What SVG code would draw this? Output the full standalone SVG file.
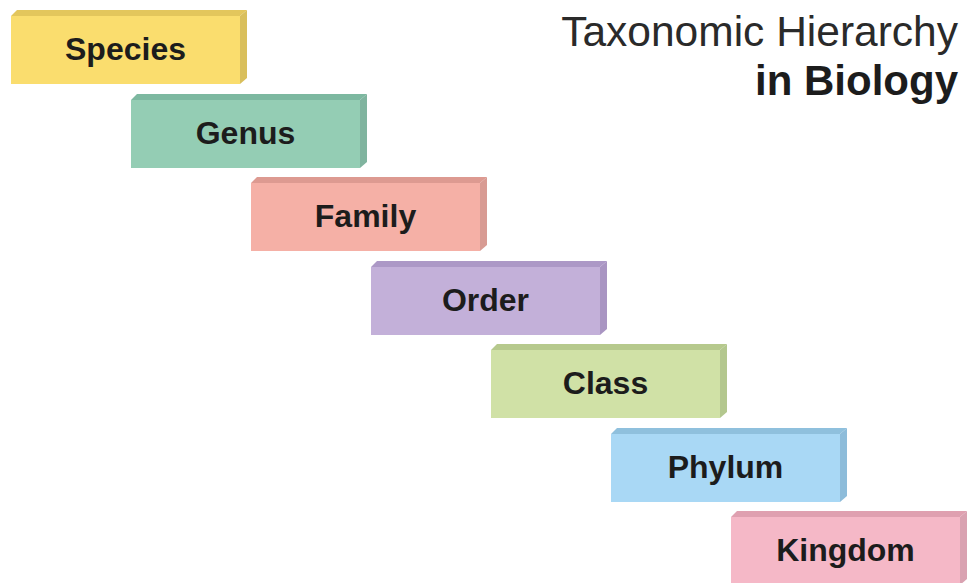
<svg xmlns="http://www.w3.org/2000/svg" width="967" height="583" viewBox="0 0 967 583">
<style>
.lbl{font-family:"Liberation Sans",Arial,sans-serif;font-weight:bold;font-size:32px;fill:#1c1c1c;text-anchor:middle}
.t1{font-family:"Liberation Sans",Arial,sans-serif;font-size:42.5px;fill:#2a2a2a;text-anchor:end}
.t2{font-family:"Liberation Sans",Arial,sans-serif;font-weight:bold;font-size:42px;fill:#1c1c1c;text-anchor:end}
</style>
<defs>
<polygon id="front" points="0,6 229,6 229,74 0,74"/>
<polygon id="top" points="0,6 6,0 236,0 229,6"/>
<polygon id="side" points="229,6 236,0 236,68 229,74"/>
</defs>
<rect width="967" height="583" fill="#ffffff"/>
<g id="title">
<text class="t1" x="958" y="46">Taxonomic Hierarchy</text>
<text class="t2" x="958" y="95">in Biology</text>
</g>
<g id="species" transform="translate(11,10)">
<use href="#front" fill="#FADD6E"/><use href="#top" fill="#E3C65C"/><use href="#side" fill="#D9BF5C"/>
<text class="lbl" x="114.5" y="50">Species</text>
</g>
<g id="genus" transform="translate(131,94)">
<use href="#front" fill="#94CDB4"/><use href="#top" fill="#7DB8A0"/><use href="#side" fill="#80B49F"/>
<text class="lbl" x="114.5" y="50">Genus</text>
</g>
<g id="family" transform="translate(251,177)">
<use href="#front" fill="#F5B0A6"/><use href="#top" fill="#DD9A91"/><use href="#side" fill="#D89B93"/>
<text class="lbl" x="114.5" y="50">Family</text>
</g>
<g id="order" transform="translate(371,261)">
<use href="#front" fill="#C3B0D9"/><use href="#top" fill="#AC98C6"/><use href="#side" fill="#A995C2"/>
<text class="lbl" x="114.5" y="50">Order</text>
</g>
<g id="class" transform="translate(491,344)">
<use href="#front" fill="#D0E1A6"/><use href="#top" fill="#B6C98D"/><use href="#side" fill="#B3C78E"/>
<text class="lbl" x="114.5" y="50">Class</text>
</g>
<g id="phylum" transform="translate(611,428)">
<use href="#front" fill="#A9D8F5"/><use href="#top" fill="#8FC0DD"/><use href="#side" fill="#8DBCDA"/>
<text class="lbl" x="114.5" y="50">Phylum</text>
</g>
<g id="kingdom" transform="translate(731,511)">
<use href="#front" fill="#F5B8C7"/><use href="#top" fill="#DFA0B0"/><use href="#side" fill="#D9A2B1"/>
<text class="lbl" x="114.5" y="50">Kingdom</text>
</g>
<g id="connectors"/>
</svg>
